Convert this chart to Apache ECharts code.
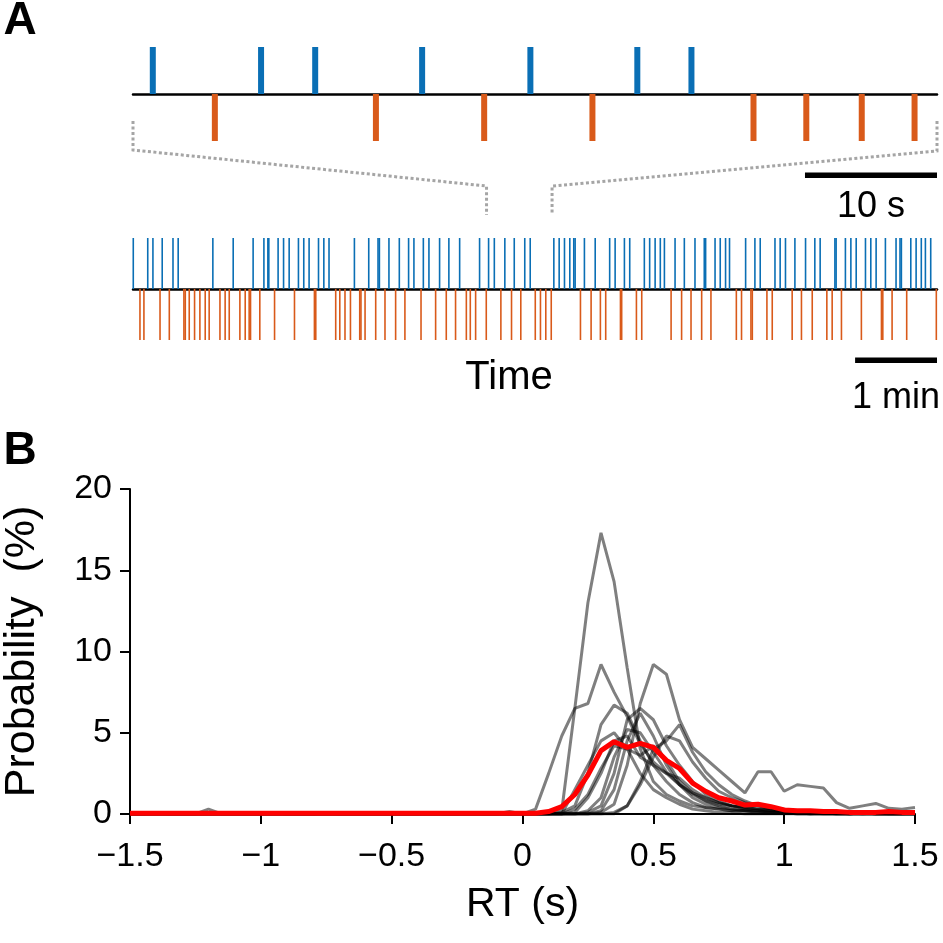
<!DOCTYPE html>
<html>
<head>
<meta charset="utf-8">
<script src="https://cdn.jsdelivr.net/npm/echarts@6/dist/echarts.min.js"></script>
<style>html,body{margin:0;padding:0;background:#fff}#c{width:943px;height:943px}</style>
</head>
<body>
<div id="c"></div>
<script>
// ---------- Panel A data (event times, seconds) ----------
const ZOOM_SPAN = 60.9;               // length of the expanded window (s)
const ZOOM_BLUE = [1.5, 9.7, 13.8, 21.9, 30.1, 38.2, 42.3];
const ZOOM_ORANGE = [6.2, 18.4, 26.6, 34.8, 47.0, 51.0, 55.2, 59.2];
const SESSION_SPAN = 589;             // length of the whole session (s)
const ZOOM_WINDOW = [259, 307];       // where the expanded window sits in the session (s)
const SESSION_BLUE = [0.2, 10.8, 14.6, 21.4, 29.3, 33.1, 58.5, 73.4, 88.0, 95.9, 98.8, 99.5, 106.3, 110.3, 114.4, 121.2, 125.1, 129.0, 135.9, 139.8, 143.6, 162.2, 172.7, 179.5, 180.5, 187.5, 195.1, 201.9, 205.8, 212.7, 216.8, 224.6, 231.4, 239.3, 253.9, 260.5, 264.7, 272.4, 279.3, 287.0, 291.0, 308.3, 312.2, 316.1, 320.0, 322.9, 323.9, 330.7, 338.6, 349.2, 353.2, 360.0, 363.9, 374.6, 378.5, 382.5, 386.3, 389.3, 397.1, 403.9, 411.7, 418.5, 419.5, 426.4, 430.2, 434.1, 437.0, 448.8, 455.6, 459.5, 470.3, 474.1, 478.0, 484.9, 492.7, 499.5, 503.4, 514.2, 515.1, 521.9, 525.9, 529.8, 536.6, 540.5, 544.4, 551.2, 559.0, 561.9, 562.9, 569.8, 573.7, 577.5, 580.5, 584.4];
const SESSION_ORANGE = [5.1, 8.0, 19.8, 26.6, 37.3, 38.3, 41.2, 45.1, 49.0, 52.9, 55.8, 63.7, 67.5, 70.5, 78.3, 82.2, 85.1, 86.1, 92.9, 103.7, 118.3, 132.9, 133.9, 148.5, 151.5, 155.3, 159.3, 166.1, 167.0, 170.0, 177.8, 184.6, 192.4, 199.2, 211.0, 221.7, 229.5, 236.3, 244.2, 247.1, 251.0, 258.8, 269.5, 277.3, 284.1, 294.7, 298.5, 302.4, 306.4, 327.8, 335.6, 342.4, 346.3, 357.1, 358.0, 368.8, 372.7, 394.2, 401.9, 408.8, 416.6, 423.4, 442.0, 445.8, 452.7, 453.7, 464.4, 468.3, 482.9, 489.7, 497.6, 508.3, 512.2, 519.0, 533.6, 548.3, 549.3, 556.1, 566.8, 588.5];

// ---------- Panel B data (RT bins, probability %) ----------
const RT = [-1.5,-1.45,-1.4,-1.35,-1.3,-1.25,-1.2,-1.15,-1.1,-1.05,-1,-0.95,-0.9,-0.85,-0.8,-0.75,-0.7,-0.65,-0.6,-0.55,-0.5,-0.45,-0.4,-0.35,-0.3,-0.25,-0.2,-0.15,-0.1,-0.05,0,0.05,0.1,0.15,0.2,0.25,0.3,0.35,0.4,0.45,0.5,0.55,0.6,0.65,0.7,0.75,0.8,0.85,0.9,0.95,1,1.05,1.1,1.15,1.2,1.25,1.3,1.35,1.4,1.45,1.5];
const S1  = [0,0,0.1,0,0,0,0,0,0,0,0,0,0,0,0,0,0,0,0,0,0,0,0,0,0,0,0,0,0,0, 0,0,0,0.2,6.5,13,17.3,14.3,9,4,2,1.2,0.8,0.5,0.4,0.3,0.2,0.2,0.1,0.1,0.1,0.1,0,0.1,0,0,0.1,0,0,0,0.1];
const S2  = [0,0,0,0,0,0,0.3,0,0,0,0,0,0,0,0,0,0,0,0,0,0,0,0,0,0,0,0,0,0,0, 0,0.3,2.5,4.8,6.5,6.8,9.2,7.5,6,4.3,3.2,2.5,1.8,1.3,1,0.7,0.5,0.4,0.3,0.2,0.2,0.1,0.1,0.1,0.1,0,0.1,0,0,0,0];
const S3  = [0,0,0,0,0,0,0,0,0,0,0,0.1,0,0,0,0,0,0,0,0,0,0,0,0,0,0,0,0,0,0, 0,0,0,0,0,0,0.1,0.6,3,6.8,9.2,8.6,5.8,4.1,3.4,2.7,2.0,1.3,2.6,2.6,1.4,1.8,1.7,1.6,0.7,0.35,0.5,0.65,0.35,0.3,0.4];
const S4  = [0,0,0,0,0,0,0,0,0,0,0,0,0,0,0,0.1,0,0,0,0,0,0,0,0,0,0,0,0,0,0, 0,0,0,0.1,0.5,2.5,5.5,6.7,6.2,4.5,3.0,2.0,1.2,0.7,0.4,0.3,0.2,0.2,0.1,0.1,0.1,0,0,0,0,0,0,0,0,0,0];
const S5  = [0,0,0,0,0,0,0,0,0,0,0,0,0,0,0,0,0,0,0,0,0,0,0,0.1,0,0,0,0,0,0, 0,0,0,0,0,0.1,0.5,2.5,5.8,6.5,5.8,4.2,3.0,2.0,1.2,0.8,0.5,0.3,0.2,0.2,0.1,0.1,0.1,0,0,0,0,0,0,0,0];
const S6  = [0,0,0,0,0,0,0,0,0,0,0,0,0,0,0,0,0,0,0,0,0,0,0,0,0,0,0.1,0,0,0, 0,0,0,0,0,0,0,0.1,0.5,2.0,4.0,4.5,5.5,3.8,2.6,1.8,1.2,0.8,0.5,0.3,0.2,0.2,0.1,0.1,0,0,0.1,0,0,0,0];
const S7  = [0,0,0,0,0,0,0,0,0,0,0,0,0,0,0,0,0,0,0,0,0,0,0,0,0,0,0,0,0,0.15, 0,0,0,0,1.5,3,4.5,5,4,2.5,1.5,1,0.6,0.3,0.2,0.1,0.1,0,0,0,0,0,0,0,0,0,0,0,0,0,0];
const S8  = [0,0,0,0,0,0,0,0,0,0,0,0,0,0,0,0,0,0,0,0,0,0,0,0,0,0,0,0,0,0, 0,0,0,0,0,0.2,1,3.5,5.2,5,3.8,2.6,1.8,1.2,0.8,0.5,0.3,0.2,0.2,0.1,0.1,0.1,0,0,0,0,0,0,0,0,0];
const S9  = [0,0,0,0,0,0,0,0,0,0,0,0,0,0,0,0,0,0,0,0,0,0,0,0,0,0,0,0,0,0, 0,0,0,0,0.1,1,2.5,4.5,4.8,3.5,3.0,2.5,2.2,1.5,1.0,0.7,0.5,0.4,0.3,0.2,0.2,0.1,0.1,0.1,0.1,0,0,0,0,0,0];
const S10 = [0,0,0,0,0,0,0,0,0,0,0,0,0,0,0,0,0,0,0,0,0,0,0,0,0,0,0,0,0,0, 0,0,0,0,0,0,0,0,0.5,1.8,3.5,4.8,4.5,3.2,2.2,1.4,1.0,0.7,0.5,0.3,0.3,0.2,0.2,0.1,0.1,0.1,0,0.1,0,0,0];
const S11 = [0,0,0,0,0,0,0,0,0,0,0,0,0,0,0,0,0,0,0,0,0,0,0,0,0,0,0,0,0,0, 0,0,0,0,0.3,1.2,2.8,4.2,4.0,3.6,4.2,3.3,2.0,1.3,0.8,0.6,0.5,0.4,0.3,0.3,0.2,0.2,0.1,0.1,0.1,0.1,0.1,0.1,0.1,0.1,0.1];
const S12 = [0,0,0,0,0,0,0,0,0,0,0,0,0,0,0,0,0,0,0,0,0,0,0,0,0,0,0,0,0,0, 0,0,0,0,0,0,0.2,1.5,4.5,6.2,4.8,3.0,1.8,1.0,0.6,0.4,0.3,0.2,0.2,0.1,0.1,0,0,0,0,0,0,0,0,0,0];
const MEAN = [0.05,0.05,0.05,0.05,0.05,0.05,0.05,0.05,0.05,0.05,0.05,0.05,0.05,0.05,0.05,0.05,0.05,0.05,0.05,0.05,0.05,0.05,0.05,0.05,0.05,0.05,0.05,0.05,0.05,0.05, 0.05,0.05,0.15,0.45,1.2,2.4,3.9,4.45,4.1,4.35,4.1,3.3,2.8,1.9,1.4,1.0,0.8,0.55,0.6,0.45,0.25,0.2,0.2,0.15,0.15,0.1,0.1,0.1,0.15,0.1,0.1];
const SUBJECTS = [S1,S2,S3,S4,S5,S6,S7,S8,S9,S10,S11,S12];

const BLUE = '#0a6fb5', ORANGE = '#d95a1a';
const FONT = 'Liberation Sans, Arial, Helvetica, sans-serif';

function raster(axisIdx, times, sign, color, w) {
  return {
    type: 'custom', xAxisIndex: axisIdx, yAxisIndex: axisIdx, z: 3,
    data: times.map(t => [t, sign]),
    renderItem: function (params, api) {
      const a = api.coord([api.value(0), 0]);
      const b = api.coord([api.value(0), api.value(1)]);
      return { type: 'rect',
        shape: { x: a[0] - w / 2, y: Math.min(a[1], b[1]), width: w, height: Math.abs(b[1] - a[1]) },
        style: { fill: color } };
    }
  };
}

const rasterX = (max) => ({
  type: 'value', min: 0, max: max,
  axisLine: { show: true, onZero: true, lineStyle: { color: '#000', width: 2.5 } },
  axisTick: { show: false }, axisLabel: { show: false }, splitLine: { show: false }
});
const rasterY = () => ({ type: 'value', min: -1, max: 1, show: false });

const chart = echarts.init(document.getElementById('c'), null, { renderer: 'canvas' });

const series = [
  raster(0, ZOOM_BLUE, 1, BLUE, 6),
  raster(0, ZOOM_ORANGE, -1, ORANGE, 6),
  raster(1, SESSION_BLUE, 1, BLUE, 1.6),
  raster(1, SESSION_ORANGE, -1, ORANGE, 1.6)
];
SUBJECTS.forEach(s => series.push({
  type: 'line', xAxisIndex: 2, yAxisIndex: 2, showSymbol: false, silent: true, z: 2,
  data: RT.map((x, i) => [x, s[i]]),
  lineStyle: { color: 'rgba(0,0,0,0.5)', width: 3 }
}));
series.push({
  type: 'line', xAxisIndex: 2, yAxisIndex: 2, showSymbol: false, silent: true, z: 5,
  data: RT.map((x, i) => [x, MEAN[i]]),
  lineStyle: { color: '#ff0000', width: 5 }
});

const fmt = v => String(v).replace('-', '\u2212');

chart.setOption({
  animation: false,
  textStyle: { fontFamily: FONT },
  grid: [
    { left: 133, top: 47, width: 804, height: 94, containLabel: false, outerBoundsMode: 'none' },
    { left: 133, top: 238, width: 804, height: 102, containLabel: false, outerBoundsMode: 'none' },
    { left: 130, top: 489, width: 785, height: 325, containLabel: false, outerBoundsMode: 'none' }
  ],
  xAxis: [
    Object.assign(rasterX(ZOOM_SPAN), { gridIndex: 0 }),
    Object.assign(rasterX(SESSION_SPAN), { gridIndex: 1 }),
    { gridIndex: 2, type: 'value', min: -1.5, max: 1.5, interval: 0.5,
      name: 'RT (s)', nameLocation: 'middle', nameGap: 70,
      nameTextStyle: { fontSize: 41, color: '#000', fontFamily: FONT },
      axisLine: { show: true, onZero: false, lineStyle: { color: '#000', width: 2 } },
      axisTick: { show: true, length: 10, lineStyle: { color: '#000', width: 2 } },
      axisLabel: { fontSize: 34, color: '#000', margin: 26, formatter: fmt, fontFamily: FONT },
      splitLine: { show: false } }
  ],
  yAxis: [
    Object.assign(rasterY(), { gridIndex: 0 }),
    Object.assign(rasterY(), { gridIndex: 1 }),
    { gridIndex: 2, type: 'value', min: 0, max: 20, interval: 5,
      name: 'Probability  (%)', nameLocation: 'middle', nameGap: 86, nameRotate: 90,
      nameTextStyle: { fontSize: 43, color: '#000', fontFamily: FONT },
      axisLine: { show: true, onZero: false, lineStyle: { color: '#000', width: 2 } },
      axisTick: { show: true, length: 10, lineStyle: { color: '#000', width: 2 } },
      axisLabel: { fontSize: 34, color: '#000', margin: 18, fontFamily: FONT },
      splitLine: { show: false } }
  ],
  series: series
});

// ----- annotations placed through the axes -----
const px0 = v => chart.convertToPixel({ xAxisIndex: 0, yAxisIndex: 0 }, [v, 0]);
const px1 = v => chart.convertToPixel({ xAxisIndex: 1, yAxisIndex: 1 }, [v, 0]);
const zl = px0(0)[0], zr = px0(ZOOM_SPAN)[0];
const wl = px1(ZOOM_WINDOW[0])[0], wr = px1(ZOOM_WINDOW[1])[0];
const sb1a = px0(ZOOM_SPAN - 10)[0], sb1b = px0(ZOOM_SPAN)[0];
const sb2a = px1(SESSION_SPAN - 60)[0], sb2b = px1(SESSION_SPAN)[0];
const dash = { stroke: '#a5a5a5', lineWidth: 3, lineDash: [3, 2.5], fill: null };
const txt = (x, y, s, size, extra) => ({ type: 'text', x: x, y: y,
  style: Object.assign({ text: s, fontSize: size, fontFamily: FONT, fill: '#000', align: 'center', verticalAlign: 'middle' }, extra || {}) });

chart.setOption({
  graphic: [
    { type: 'polyline', shape: { points: [[zl, 121], [zl, 150], [wl, 186], [wl, 215]] }, style: dash },
    { type: 'polyline', shape: { points: [[zr, 121], [zr, 151], [wr, 186], [wr, 215]] }, style: dash },
    { type: 'rect', shape: { x: sb1a, y: 172.5, width: sb1b - sb1a, height: 5.5 }, style: { fill: '#000' } },
    txt((sb1a + sb1b) / 2, 207, '10 s', 36),
    { type: 'rect', shape: { x: sb2a, y: 357.5, width: sb2b - sb2a, height: 5.5 }, style: { fill: '#000' } },
    txt((sb2a + sb2b) / 2, 398, '1 min', 36),
    txt(509, 378, 'Time', 40),
    txt(20, 21, 'A', 46, { fontWeight: 'bold' }),
    txt(20, 451, 'B', 46, { fontWeight: 'bold' })
  ]
});
</script>
</body>
</html>
